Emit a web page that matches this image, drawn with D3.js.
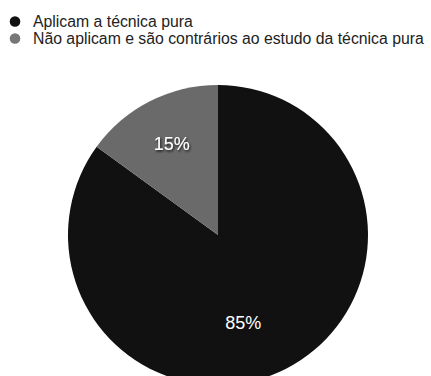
<!DOCTYPE html>
<html><head><meta charset="utf-8">
<script src="https://cdn.jsdelivr.net/npm/d3@7"></script>
<style>body{margin:0;background:#fff;}svg{display:block;}</style>
</head><body>
<svg id="c" width="431" height="376"></svg>
<script>
const categories = ["Aplicam a técnica pura", "Não aplicam e são contrários ao estudo da técnica pura"];
const values = [85, 15];
const colors = ["#111111", "#6a6a6a"];
const legendColors = ["#111111", "#777777"];

const svg = d3.select("#c");
const defs = svg.append("defs");
const f = defs.append("filter").attr("id","sh").attr("x","-20%").attr("y","-20%").attr("width","140%").attr("height","160%");
f.append("feDropShadow").attr("dx",1).attr("dy",1.5).attr("stdDeviation",1.2).attr("flood-color","#000").attr("flood-opacity",0.8);

const lg = svg.append("g");
categories.forEach((c,i)=>{
  const y = 21.5 + i*17;
  lg.append("circle").attr("cx",15).attr("cy",y).attr("r",5.3).attr("fill",legendColors[i]);
  lg.append("text").attr("x",33).attr("y",y+5.5).attr("font-family","Liberation Sans, Arial, sans-serif")
    .attr("font-size",15.8).attr("fill","#222").text(c);
});

const cx = 218, cy = 235, R = 150;
const pie = d3.pie().sort(null).startAngle(0).endAngle(2*Math.PI);
const arcs = pie(values);
const arc = d3.arc().innerRadius(0).outerRadius(R);
const g = svg.append("g").attr("transform",`translate(${cx},${cy})`);
g.selectAll("path").data(arcs).join("path").attr("d",arc).attr("fill",(d,i)=>colors[i]);

const labelPos = [{a: 164*Math.PI/180, r: 0.61}, {a: null, r: 0.68}];
g.selectAll("text.lbl").data(arcs).join("text").attr("class","lbl")
  .attr("transform",(d,i)=>{
    const a = labelPos[i].a !== null ? labelPos[i].a : (d.startAngle+d.endAngle)/2;
    const r = labelPos[i].r*R;
    return `translate(${r*Math.sin(a)},${-r*Math.cos(a)})`;
  })
  .attr("text-anchor","middle").attr("dy","0.35em")
  .attr("font-family","Liberation Sans, Arial, sans-serif").attr("font-size",18)
  .attr("fill","#fff").attr("filter",(d,i)=>i===1?"url(#sh)":null)
  .text(d=>d.data+"%");
</script>
</body></html>
